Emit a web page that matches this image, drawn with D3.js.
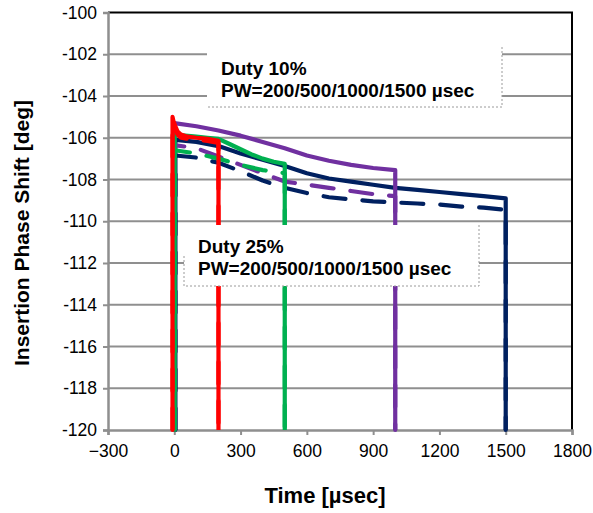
<!DOCTYPE html>
<html>
<head>
<meta charset="utf-8">
<script src="https://cdn.jsdelivr.net/npm/d3@7/dist/d3.min.js"></script>
<style>
  html, body { margin: 0; padding: 0; background: #fff; }
  svg { display: block; font-family: "Liberation Sans", Arial, sans-serif; }
</style>
</head>
<body>
<svg id="chart" width="593" height="513"></svg>
<script>
// Axis ticks
const xTicks = [-300, 0, 300, 600, 900, 1200, 1500, 1800];
const yTicks = [-120, -118, -116, -114, -112, -110, -108, -106, -104, -102, -100];

// Duty 10% (solid) — time [µsec] and insertion phase [deg]
const timeRed10 = [-8, -8, -4, 5, 15, 30, 60, 100, 150, 200, 200];
const phaseRed10 = [-120, -105.0, -105.2, -105.45, -105.7, -105.85, -105.95, -106.0, -106.05, -106.15, -120];
const timeGreen10 = [2, 2, 50, 100, 150, 200, 250, 300, 350, 400, 450, 500, 500];
const phaseGreen10 = [-120, -105.85, -105.9, -105.95, -106.0, -106.05, -106.3, -106.55, -106.8, -107.0, -107.15, -107.25, -120];
const timePurple10 = [0, 0, 100, 200, 300, 400, 500, 600, 700, 800, 900, 1000, 1000];
const phasePurple10 = [-120, -105.3, -105.45, -105.65, -105.9, -106.2, -106.5, -106.85, -107.1, -107.3, -107.45, -107.55, -120];
const timeNavy10 = [5, 5, 100, 200, 300, 400, 500, 600, 700, 800, 900, 1000, 1100, 1200, 1300, 1400, 1500, 1500];
const phaseNavy10 = [-120, -106.1, -106.2, -106.4, -106.75, -107.05, -107.35, -107.7, -107.95, -108.1, -108.25, -108.4, -108.5, -108.6, -108.7, -108.8, -108.9, -120];

// Duty 25% (dashed)
const timeRed25 = [-8, -8, -4, 5, 15, 30, 60, 100, 150, 200, 200];
const phaseRed25 = [-120, -105.2, -105.4, -105.65, -105.85, -106.0, -106.05, -106.1, -106.15, -106.25, -120];
const timeGreen25 = [2, 2, 100, 200, 300, 400, 500, 500];
const phaseGreen25 = [-120, -106.6, -106.75, -107.0, -107.3, -107.55, -107.7, -120];
const timePurple25 = [0, 0, 100, 200, 300, 400, 500, 600, 700, 800, 900, 1000, 1000];
const phasePurple25 = [-120, -106.35, -106.5, -106.9, -107.3, -107.7, -108.1, -108.25, -108.4, -108.55, -108.7, -108.8, -120];
const timeNavy25 = [5, 5, 100, 200, 300, 400, 500, 600, 700, 800, 900, 1000, 1100, 1200, 1300, 1400, 1500, 1500];
const phaseNavy25 = [-120, -106.85, -106.95, -107.2, -107.6, -108.05, -108.4, -108.65, -108.85, -108.95, -109.05, -109.1, -109.15, -109.2, -109.3, -109.35, -109.45, -120];

const series = [
  { t: timeNavy10, v: phaseNavy10, color: "#002060", dashed: false },
  { t: timeNavy25, v: phaseNavy25, color: "#002060", dashed: true },
  { t: timePurple10, v: phasePurple10, color: "#7030A0", dashed: false },
  { t: timePurple25, v: phasePurple25, color: "#7030A0", dashed: true },
  { t: timeGreen10, v: phaseGreen10, color: "#00B050", dashed: false },
  { t: timeGreen25, v: phaseGreen25, color: "#00B050", dashed: true },
  { t: timeRed25, v: phaseRed25, color: "#FF0000", dashed: true },
  { t: timeRed10, v: phaseRed10, color: "#FF0000", dashed: false }
];

const svg = d3.select("#chart");
const plotLeft = 108, plotRight = 572, plotTop = 12.5, plotBottom = 430;

const x = d3.scaleLinear().domain([-300, 1800]).range([plotLeft, plotRight]);
const y = d3.scaleLinear().domain([-120, -100]).range([plotBottom, plotTop]);

// Horizontal gridlines
svg.append("g")
  .selectAll("line")
  .data(yTicks.filter(d => d > -120 && d < -100))
  .join("line")
  .attr("x1", plotLeft).attr("x2", plotRight)
  .attr("y1", d => y(d)).attr("y2", d => y(d))
  .attr("stroke", "#8f8f8f").attr("stroke-width", 2);

// Frame: top and right in black
svg.append("path")
  .attr("d", `M${plotLeft},${y(-100)}H${plotRight}V${plotBottom}`)
  .attr("fill", "none").attr("stroke", "#000").attr("stroke-width", 2);

// Y axis
const yAxis = svg.append("g")
  .attr("transform", `translate(${plotLeft},0)`)
  .call(d3.axisLeft(y).tickValues(yTicks).tickFormat(d => String(d)).tickSize(5).tickPadding(6));
yAxis.select(".domain").attr("stroke", "#8f8f8f").attr("stroke-width", 2.5);
yAxis.selectAll(".tick line").attr("stroke", "#8f8f8f").attr("stroke-width", 2);
yAxis.selectAll(".tick text").attr("font-size", 17.5).attr("fill", "#000")
  .attr("font-family", "Liberation Sans, Arial, sans-serif");

// X axis (minus sign on negatives, no thousands separator)
const xAxis = svg.append("g")
  .attr("transform", `translate(0,${plotBottom})`)
  .call(d3.axisBottom(x).tickValues(xTicks).tickFormat(d3.format("d")).tickSize(5).tickPadding(10));
xAxis.select(".domain").attr("stroke", "#8f8f8f").attr("stroke-width", 2.5);
xAxis.selectAll(".tick line").attr("stroke", "#8f8f8f").attr("stroke-width", 2);
xAxis.selectAll(".tick text").attr("font-size", 17.5).attr("fill", "#000")
  .attr("font-family", "Liberation Sans, Arial, sans-serif");

// Data lines
const line = d3.line().x(d => x(d[0])).y(d => y(d[1]));
svg.append("g")
  .selectAll("path")
  .data(series)
  .join("path")
  .attr("d", s => line(s.t.map((t, i) => [t, s.v[i]])))
  .attr("fill", "none")
  .attr("stroke", s => s.color)
  .attr("stroke-width", 4.2)
  .attr("stroke-linejoin", "round")
  .attr("stroke-linecap", s => s.dashed ? "round" : "butt")
  .attr("stroke-dasharray", s => s.dashed ? "22,17" : null);

// Annotation boxes
function note(x0, y0, w, h, lines, leftEdge) {
  const g = svg.append("g");
  g.append("rect").attr("x", x0).attr("y", y0).attr("width", w).attr("height", h).attr("fill", "#fff");
  let d = `M${x0 + w},${y0}V${y0 + h}H${x0}`;
  if (leftEdge) d += `V${y0 + h * 0.5}`;
  g.append("path").attr("d", d).attr("fill", "none")
    .attr("stroke", "#9a9a9a").attr("stroke-width", 1).attr("stroke-dasharray", "2,2");
  lines.forEach((txt, i) => {
    g.append("text").attr("x", x0 + 14).attr("y", y0 + 28 + i * 22)
      .attr("font-size", 19).attr("font-weight", "bold").attr("fill", "#000").text(txt);
  });
}
note(207, 47, 295, 60, ["Duty 10%", "PW=200/500/1000/1500 \u00B5sec"], false);
note(184, 225, 295, 61, ["Duty 25%", "PW=200/500/1000/1500 \u00B5sec"], true);

// Axis titles
svg.append("text")
  .attr("x", 325).attr("y", 503)
  .attr("text-anchor", "middle")
  .attr("font-size", 22).attr("font-weight", "bold")
  .text("Time [\u00B5sec]");
svg.append("text")
  .attr("transform", "translate(29,233) rotate(-90)")
  .attr("text-anchor", "middle")
  .attr("font-size", 21).attr("font-weight", "bold")
  .text("Insertion Phase Shift [deg]");
</script>
</body>
</html>
